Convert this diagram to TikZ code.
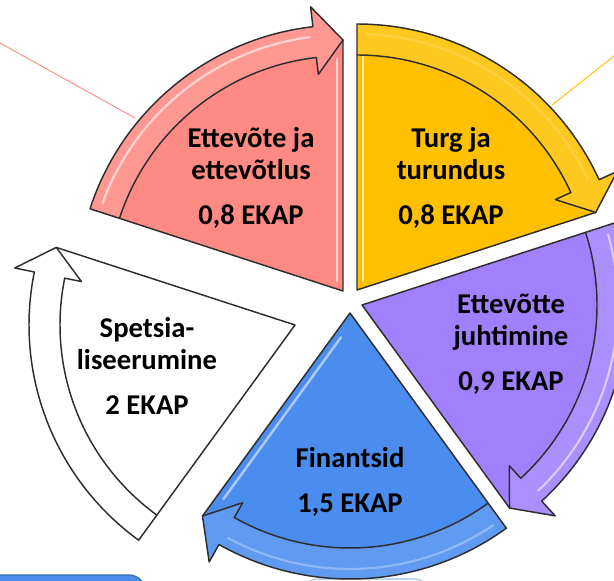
\documentclass[tikz,border=0pt]{standalone}
\usepackage{fontspec}
\setmainfont{Carlito}
\definecolor{roosa}{HTML}{FF8A84}
\definecolor{kollane}{HTML}{FFC000}
\definecolor{lilla}{HTML}{A080FC}
\definecolor{sinine}{HTML}{4B8CEF}
\definecolor{servjoon}{HTML}{2E2E2E}
\definecolor{kastiserv}{HTML}{3E6FAE}
\definecolor{helesinine}{HTML}{9DC3E6}
\begin{document}
\begin{tikzpicture}[line cap=round,line join=round,x=0.75pt,y=0.75pt,
  silt/.style={font=\bfseries\fontsize{21.5}{24}\selectfont,align=center,inner sep=0pt},
  kontuur/.style={draw=servjoon,line width=1.1pt}]
\clip (0,0) rectangle (614,581);
% peened jooned
\coordinate (vasakalgus) at (0,538);
\coordinate (vasakots) at (135,463);
\coordinate (paremalgus) at (614,525);
\coordinate (paremots) at (552,476);
\draw[roosa,line width=0.7pt] (vasakalgus)--(vasakots);
\draw[kollane,line width=0.7pt] (paremalgus)--(paremots);
% kastid all
\draw[kastiserv,line width=1pt,fill=sinine,rounded corners=12] (-20,-40) rectangle (145,6);
\draw[helesinine,line width=0.8pt,fill=white,rounded corners=12] (302,-40) rectangle (430,2);
% segmendid: tipp x/tipp y/noole suund/varv/laige
\foreach \ax/\ay/\h/\col/\hele in {343/290/90/roosa/0.6,357/291/18/kollane/0.15,362/276/-54/lilla/0.55,350/268/-126/sinine/0.3,295/256/162/white/0}
{
\begin{scope}[shift={(\ax,\ay)}]
\pgfmathsetmacro{\saba}{\h+72}
\pgfmathsetmacro{\alus}{\h+6.5}
\fill[\col] (0,0)--(\saba:235) arc[start angle=\saba,end angle=\alus,radius=235]--(\alus:218)--(\h:251)--cycle;
\draw[kontuur] (\saba:235)--(0,0)--(\h:251);
\draw[kontuur,fill=\col!88!white] (\saba:266) arc[start angle=\saba,end angle=\alus,radius=266]--(\alus:286)--(\h:251)--(\alus:218)--(\alus:235) arc[start angle=\alus,end angle=\saba,radius=235]--cycle;
\draw[white,opacity=\hele,line width=1.6pt] (\saba-2:256) arc[start angle=\saba-2,end angle=\alus+1,radius=256];
\end{scope}
}
% laigud servadel
\draw[white,opacity=0.6,line width=1.8pt] (337,300)--(337,522);
\draw[kollane!35!white,line width=2.2pt] (363,300)--(363,524);
\draw[white,opacity=0.55,line width=1.8pt] ([shift={(324:7)}]350,268) ++(234:25) -- ++(234:200);
% tekstid
\node[silt] (ettevote) at (251,403) {Ettevõte ja\\ettevõtlus\\[9.75pt]0,8 EKAP};
\node[silt] (turg) at (451,403) {Turg ja\\turundus\\[9.75pt]0,8 EKAP};
\node[silt] (juhtimine) at (511,237) {Ettevõtte\\juhtimine\\[9.75pt]0,9 EKAP};
\node[silt] (finantsid) at (350,99) {Finantsid\\[9.75pt]1,5 EKAP};
\node[silt] (spets) at (147,215) {Spetsia-\\liseerumine\\[9.75pt]2 EKAP};
\end{tikzpicture}
\end{document}
